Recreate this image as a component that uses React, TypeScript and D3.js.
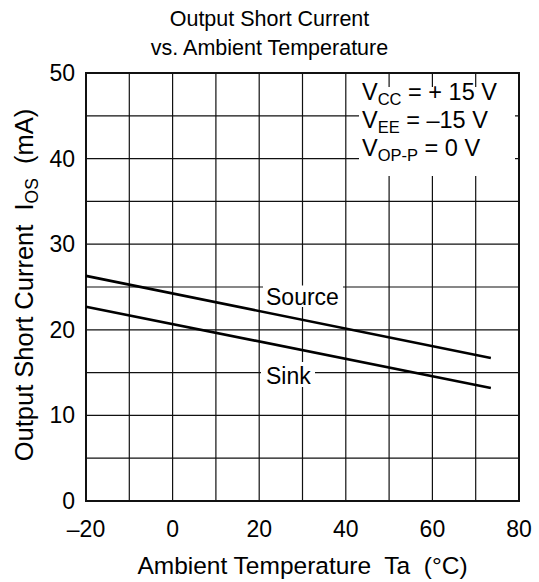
import * as d3 from "d3";

const temps = [-20, 73.5];
const sourceCurrent = [26.3, 16.7];
const sinkCurrent = [22.7, 13.2];
const xTicks = [-20, 0, 20, 40, 60, 80];
const yTicks = [0, 10, 20, 30, 40, 50];
const xGrid = d3.range(-20, 81, 10);
const yGrid = d3.range(0, 51, 5);

const W = 539;
const H = 582;
const m = { left: 86, right: 519, top: 73, bottom: 501 };
const font = "'Liberation Sans', Arial, sans-serif";

const fmt = (v: number) => (v < 0 ? `–${Math.abs(v)}` : `${v}`);

export default function App() {
  const x = d3.scaleLinear().domain([-20, 80]).range([m.left, m.right]);
  const y = d3.scaleLinear().domain([0, 50]).range([m.bottom, m.top]);
  const line = d3
    .line<number>()
    .x((_, i) => x(temps[i]))
    .y((d) => y(d));

  return (
    <svg
      width={W}
      height={H}
      style={{ position: "absolute", left: 0, top: 0, background: "#fff" }}
      fontFamily={font}
    >
      <rect width={W} height={H} fill="#fff" />
      {/* title */}
      <text x={269.5} y={26} textAnchor="middle" fontSize={21.5}>
        Output Short Current
      </text>
      <text x={269.5} y={55} textAnchor="middle" fontSize={21.5}>
        vs. Ambient Temperature
      </text>

      {/* grid */}
      <g stroke="#111" strokeWidth={1.2}>
        {xGrid.map((t) => (
          <line key={"x" + t} x1={x(t)} x2={x(t)} y1={m.top} y2={m.bottom} />
        ))}
        {yGrid.map((v) => (
          <line key={"y" + v} x1={m.left} x2={m.right} y1={y(v)} y2={y(v)} />
        ))}
      </g>
      <rect
        x={m.left}
        y={m.top}
        width={m.right - m.left}
        height={m.bottom - m.top}
        fill="none"
        stroke="#111"
        strokeWidth={2}
      />

      {/* data lines */}
      <path d={line(sourceCurrent) ?? ""} fill="none" stroke="#000" strokeWidth={2.6} />
      <path d={line(sinkCurrent) ?? ""} fill="none" stroke="#000" strokeWidth={2.6} />

      {/* line labels */}
      <rect x={263} y={285.5} width={80} height={21.5} fill="#fff" />
      <text x={266} y={305} fontSize={23}>
        Source
      </text>
      <rect x={261} y={362} width={54} height={25} fill="#fff" />
      <text x={266} y={384} fontSize={23}>
        Sink
      </text>

      {/* conditions */}
      <rect x={359} y={87} width={156} height={89} fill="#fff" />
      <g fontSize={23.5} style={{ whiteSpace: "pre" }}>
        <text x={362} y={100}>
          V<tspan fontSize={16.5} dy={5}>CC</tspan>
          <tspan dy={-5}> = + 15 V</tspan>
        </text>
        <text x={362} y={128}>
          V<tspan fontSize={16.5} dy={5}>EE</tspan>
          <tspan dy={-5}> = –15 V</tspan>
        </text>
        <text x={362} y={156}>
          V<tspan fontSize={16.5} dy={5}>OP-P</tspan>
          <tspan dy={-5}> = 0 V</tspan>
        </text>
      </g>

      {/* tick labels */}
      {xTicks.map((t) => (
        <text key={"xt" + t} x={x(t)} y={537} textAnchor="middle" fontSize={23}>
          {fmt(t)}
        </text>
      ))}
      {yTicks.map((v) => (
        <text key={"yt" + v} x={75} y={y(v) + 8} textAnchor="end" fontSize={23}>
          {v}
        </text>
      ))}

      {/* axis titles */}
      <text
        x={302.5}
        y={574}
        textAnchor="middle"
        fontSize={24.5}
        style={{ whiteSpace: "pre" }}
      >
        Ambient Temperature  Ta  (°C)
      </text>
      <text
        transform={`translate(33,${(m.top + m.bottom) / 2 - 2}) rotate(-90)`}
        textAnchor="middle"
        fontSize={25.5}
        style={{ whiteSpace: "pre" }}
      >
        Output Short Current  I<tspan fontSize={17.5} dy={5}>OS</tspan>
        <tspan dy={-5}>  (mA)</tspan>
      </text>
    </svg>
  );
}
